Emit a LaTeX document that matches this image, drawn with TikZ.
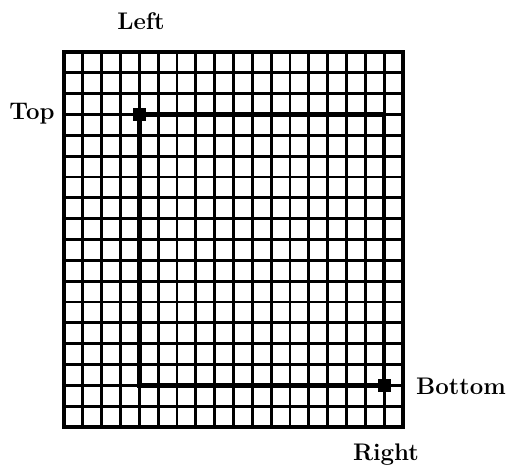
\documentclass[tikz,border=0pt]{standalone}
\begin{document}
\begin{tikzpicture}[x=1pt,y=-1pt,
  gridline/.style={line width=2.8pt,black},
  frame/.style={line width=3.2pt,black},
  selrect/.style={line width=4.6pt,black},
  marker/.style={fill=black,draw=none,minimum size=13pt,inner sep=0pt,shape=rectangle},
  lbl/.style={font=\fontsize{24}{28}\selectfont\bfseries,inner sep=0pt}]
\useasboundingbox (0,0) rectangle (511,471);
\fill[white] (0,0) rectangle (511,471);
% grid
\foreach \i in {1,...,17}{
  \draw[gridline] ({64+\i*18.833},52) -- ({64+\i*18.833},427);
  \draw[gridline] (64,{52+\i*20.833}) -- (403,{52+\i*20.833});
}
\draw[frame] (64,52) rectangle (403,427);
% markers
\node[marker] (tl) at ({64+4*18.833},{52+3*20.833}) {};
\node[marker] (br) at ({64+17*18.833},{52+16*20.833}) {};
\draw[selrect,line cap=rect] (tl.center) -| (br.center);
\draw[selrect,line cap=rect] (tl.center) |- (br.center);
% labels
\node[lbl] (left) at (141,21) {Left};
\node[lbl] (top) at (32,114) {Top};
\node[lbl] (bottom) at (461,386) {Bottom};
\node[lbl] (right) at (386,455) {Right};
\end{tikzpicture}
\end{document}
